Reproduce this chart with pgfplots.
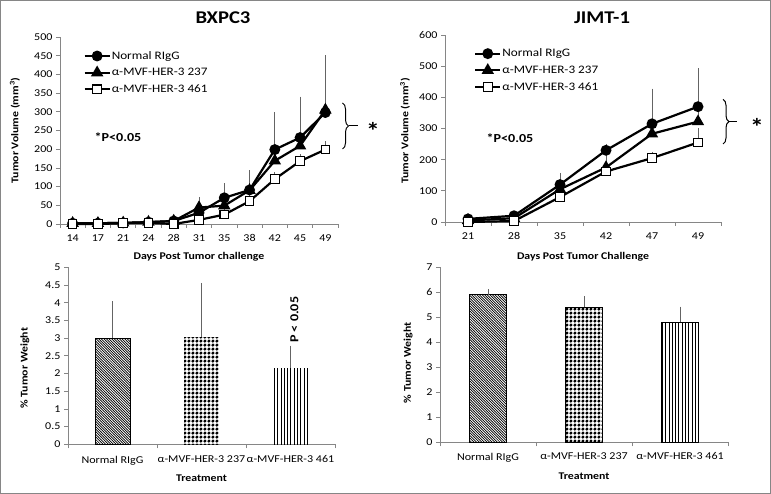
\documentclass[border=0pt]{standalone}
\usepackage{fontspec}
\setmainfont{Carlito}[FakeStretch=1.15]
\usepackage{pgfplots}
\pgfplotsset{compat=1.18}
\usetikzlibrary{patterns,decorations.pathreplacing}

\pgfdeclarepatternformonly{mydiag}{\pgfqpoint{-1pt}{-1pt}}{\pgfqpoint{3.6pt}{3.6pt}}{\pgfqpoint{2.6pt}{2.6pt}}{%
  \pgfsetlinewidth{0.7pt}%
  \pgfpathmoveto{\pgfqpoint{-0.1pt}{2.7pt}}\pgfpathlineto{\pgfqpoint{2.7pt}{-0.1pt}}\pgfusepath{stroke}}
\pgfdeclarepatternformonly{myvert}{\pgfqpoint{-1pt}{-1pt}}{\pgfqpoint{4.3pt}{4.3pt}}{\pgfqpoint{3.3pt}{3.3pt}}{%
  \pgfsetlinewidth{1pt}%
  \pgfpathmoveto{\pgfqpoint{1.65pt}{-0.5pt}}\pgfpathlineto{\pgfqpoint{1.65pt}{3.8pt}}\pgfusepath{stroke}}
\pgfdeclarepatternformonly{mydots}{\pgfqpoint{0pt}{0pt}}{\pgfqpoint{4pt}{4pt}}{\pgfqpoint{4pt}{4pt}}{%
  \pgfpathcircle{\pgfqpoint{2pt}{2pt}}{1.75pt}\pgfusepath{fill}}

\definecolor{axgray}{RGB}{134,134,134}
\definecolor{errgray}{RGB}{100,100,100}

\newcommand\tickf{\fontsize{10.5}{12}\selectfont}
\newcommand\labf{\fontsize{10.3}{12}\selectfont\bfseries}
\newcommand\legf{\fontsize{11.5}{13}\selectfont}
\newcommand\titf{\fontsize{18}{21}\selectfont\bfseries}
\newcommand\pf{\fontsize{12.3}{14}\selectfont\bfseries}
\newcommand\starf{\fontsize{24}{26}\selectfont\bfseries}

\pgfplotsset{
  exc/.style={
    scale only axis, anchor=south west, clip=false,
    axis x line*=bottom, axis y line*=left,
    axis line style={draw=axgray, line width=0.75bp},
    tick style={draw=axgray, line width=0.75bp},
    tick align=outside, major tick length=4bp,
    ticklabel style={font=\tickf, text=black},
    /pgf/number format/assume math mode=true,
    xticklabel={\mbox{}},
    extra x tick style={major tick length=0pt, grid=none},
    label style={font=\labf},
    xlabel style={anchor=center},
    ylabel style={anchor=center},
    legend image code/.code={\draw[mark repeat=2,mark phase=2] plot coordinates {(0bp,0bp) (12.5bp,0bp) (25bp,0bp)};},
    legend cell align=left,
  },
  ser1/.style={black, line width=2.2bp, mark=*, mark size=4.3bp, mark options={solid}},
  ser2/.style={black, line width=2.2bp, mark=triangle*, mark size=5bp, mark options={solid}},
  ser3/.style={black, line width=2.2bp, mark=square*, mark size=4.3bp, mark options={solid, fill=white, line width=1.1bp}},
  eb/.style={forget plot, draw=none, mark=none,
    error bars/y dir=plus, error bars/y explicit,
    error bars/error bar style={draw=errgray, line width=0.8bp, solid},
    error bars/error mark options={draw=errgray, line width=0.9bp, mark size=3.2bp}},
  barstyle/.style={ybar, bar width=#1, bar shift=0pt, pattern color=black,
    error bars/y dir=plus, error bars/y explicit,
    error bars/error bar style={draw=errgray, line width=0.9bp, solid},
    error bars/error mark options={draw=errgray, line width=0.9bp, mark size=3.2bp}},
}

\begin{document}
\begin{tikzpicture}[x=1bp,y=1bp]
\useasboundingbox (0,0) rectangle (771,494);

% ---------------- Top left: BXPC3 ----------------
\begin{axis}[exc,
  at={(60bp,270bp)}, width=278bp, height=187bp,
  xmin=-0.5, xmax=10.5, ymin=0, ymax=500,
  xtick={-0.5,0.5,...,10.5},
  extra x ticks={0,1,...,10},
  extra x tick labels={14,17,21,24,28,31,35,38,42,45,49},
  xticklabel style={yshift=-7bp},
  ytick={0,50,...,500},
  xlabel={Days Post Tumor challenge},
  xlabel style={at={(axis description cs:0.5,-0.176)}},
  ylabel={Tumor Volume (mm\textsuperscript{3})},
  ylabel style={at={(axis description cs:-0.162,0.5)}},
  legend style={at={(axis description cs:0.084,0.93)}, anchor=north west, draw=none, fill=none,
    font=\legf, inner sep=0pt, row sep=5.5bp, nodes={inner sep=1bp}},
]
\addplot[eb] coordinates {(0,2)+-(0,1) (1,2)+-(0,1) (2,3)+-(0,1) (3,5)+-(0,2) (4,8)+-(0,3) (5,30)+-(0,34) (6,70)+-(0,30) (7,91)+-(0,44) (8,199)+-(0,91) (9,231)+-(0,101) (10,298)+-(0,145)};
\addplot[eb] coordinates {(0,2)+-(0,1) (1,2)+-(0,1) (2,3)+-(0,1) (3,5)+-(0,2) (4,8)+-(0,3) (5,44)+-(0,15) (6,49)+-(0,12) (7,90)+-(0,38) (8,169)+-(0,76) (9,209)+-(0,93) (10,305)+-(0,133)};
\addplot[eb] coordinates {(0,0)+-(0,1) (1,0)+-(0,1) (2,2)+-(0,1) (3,3)+-(0,1) (4,0)+-(0,2) (5,11)+-(0,4) (6,25)+-(0,6) (7,61)+-(0,8) (8,120)+-(0,10) (9,168)+-(0,10) (10,199)+-(0,14)};
\addplot[ser1] coordinates {(0,2) (1,2) (2,3) (3,5) (4,8) (5,30) (6,70) (7,91) (8,199) (9,231) (10,298)};
\addlegendentry{Normal RIgG}
\addplot[ser2] coordinates {(0,2) (1,2) (2,3) (3,5) (4,8) (5,44) (6,49) (7,90) (8,169) (9,209) (10,305)};
\addlegendentry{α-MVF-HER-3 237}
\addplot[ser3] coordinates {(0,0) (1,0) (2,2) (3,3) (4,0) (5,11) (6,25) (7,61) (8,120) (9,168) (10,199)};
\addlegendentry{α-MVF-HER-3 461}
\end{axis}

% ---------------- Top right: JIMT-1 ----------------
\begin{axis}[exc,
  at={(445bp,272bp)}, width=276bp, height=187bp,
  xmin=-0.5, xmax=5.5, ymin=0, ymax=600,
  xtick={-0.5,0.5,...,5.5},
  extra x ticks={0,1,...,5},
  extra x tick labels={21,28,35,42,47,49},
  xticklabel style={yshift=-7bp},
  ytick={0,100,...,600},
  xlabel={Days Post Tumor Challenge},
  xlabel style={at={(axis description cs:0.5,-0.187)}},
  ylabel={Tumor Volume (mm\textsuperscript{3})},
  ylabel style={at={(axis description cs:-0.145,0.488)}},
  legend style={at={(axis description cs:0.105,0.932)}, anchor=north west, draw=none, fill=none,
    font=\legf, inner sep=0pt, row sep=5.5bp, nodes={inner sep=1bp}},
]
\addplot[eb] coordinates {(0,10)+-(0,2) (1,20)+-(0,5) (2,120)+-(0,27) (3,230)+-(0,10) (4,315)+-(0,103) (5,370)+-(0,113)};
\addplot[eb] coordinates {(0,5)+-(0,2) (1,12)+-(0,5) (2,105)+-(0,20) (3,175)+-(0,45) (4,283)+-(0,55) (5,322)+-(0,83)};
\addplot[eb] coordinates {(0,0)+-(0,1) (1,3)+-(0,3) (2,80)+-(0,10) (3,162)+-(0,10) (4,205)+-(0,10) (5,255)+-(0,35)};
\addplot[ser1] coordinates {(0,10) (1,20) (2,120) (3,230) (4,315) (5,370)};
\addlegendentry{Normal RIgG}
\addplot[ser2] coordinates {(0,5) (1,12) (2,105) (3,175) (4,283) (5,322)};
\addlegendentry{α-MVF-HER-3 237}
\addplot[ser3] coordinates {(0,0) (1,3) (2,80) (3,162) (4,205) (5,255)};
\addlegendentry{α-MVF-HER-3 461}
\end{axis}

% ---------------- Bottom left ----------------
\begin{axis}[exc,
  at={(68bp,49.7bp)}, width=267bp, height=177bp,
  xmin=-0.5, xmax=2.5, ymin=0, ymax=5,
  xtick={-0.5,0.5,1.5,2.5},
  extra x ticks={0,1,2},
  extra x tick labels={Normal RIgG,α-MVF-HER-3 237,α-MVF-HER-3 461},
  xticklabel style={yshift=-8bp},
  ytick={0,0.5,...,5},
  xlabel={Treatment},
  xlabel style={at={(axis description cs:0.5,-0.19)}},
  ylabel={\% Tumor Weight},
  ylabel style={at={(axis description cs:-0.161,0.43)}},
]
\addplot[barstyle=35bp, draw=black, line width=1bp, pattern=mydiag] coordinates {(0,3.0)+-(0,0.95)};
\addplot[barstyle=35bp, draw=none, pattern=mydots] coordinates {(1,3.03)+-(0,1.44)};
\addplot[barstyle=35bp, draw=none, pattern=myvert] coordinates {(2,2.15)+-(0,0.55)};
\node[rotate=90, anchor=west, font=\pf, inner sep=0pt] at (axis cs:2.045,2.86) {P < 0.05};
\end{axis}

% ---------------- Bottom right ----------------
\begin{axis}[exc,
  at={(440bp,51.7bp)}, width=288bp, height=175bp,
  xmin=-0.5, xmax=2.5, ymin=0, ymax=7,
  xtick={-0.5,0.5,1.5,2.5},
  extra x ticks={0,1,2},
  extra x tick labels={Normal RIgG,α-MVF-HER-3 237,α-MVF-HER-3 461},
  xticklabel style={yshift=-7bp},
  ytick={0,1,...,7},
  xlabel={Treatment},
  xlabel style={at={(axis description cs:0.5,-0.193)}},
  ylabel={\% Tumor Weight},
  ylabel style={at={(axis description cs:-0.111,0.455)}},
]
\addplot[barstyle=37bp, draw=black, line width=1bp, pattern=mydiag] coordinates {(0,5.9)+-(0,0.1)};
\addplot[barstyle=37bp, draw=black, line width=1bp, pattern=mydots] coordinates {(1,5.4)+-(0,0.32)};
\addplot[barstyle=37bp, draw=black, line width=1bp, pattern=myvert] coordinates {(2,4.8)+-(0,0.5)};
\end{axis}

% ---------------- annotations ----------------
\node[font=\titf] at (223,476) {BXPC3};
\node[font=\titf] at (602,476) {JIMT-1};
\node[font=\pf] at (118,357) {*P<0.05};
\node[font=\pf] at (510,356) {*P<0.05};
\draw[line width=1bp, decorate, decoration={brace, amplitude=6bp}] (342.5,391) -- (342.5,345);
\draw[line width=1bp] (349,368) -- (358,368);
\node[font=\starf, inner sep=0pt] at (373,363) {*};
\draw[line width=1bp, decorate, decoration={brace, amplitude=6bp}] (723,394.7) -- (723,350);
\draw[line width=1bp] (729,372.4) -- (737,372.4);
\node[font=\starf, inner sep=0pt] at (757,367) {*};

\draw[axgray, line width=1.2bp] (0.6,0.6) rectangle (770.4,493.4);
\end{tikzpicture}
\end{document}
